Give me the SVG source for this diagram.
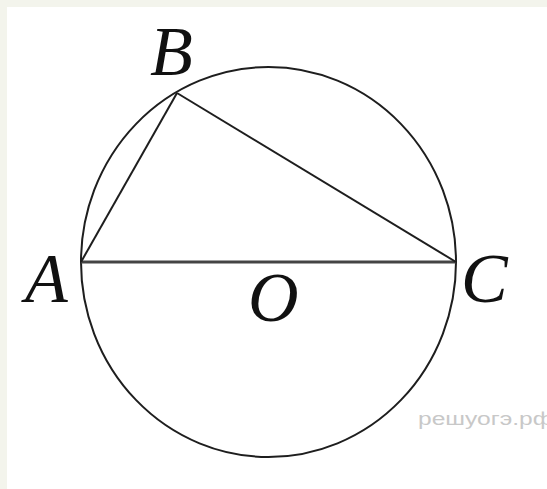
<svg xmlns="http://www.w3.org/2000/svg" width="547" height="489" viewBox="0 0 547 489">
<style>
.ln{fill:none;stroke:#1e1e1e;stroke-width:2}
</style>
<rect x="0" y="0" width="547" height="489" fill="#f3f4ec"/>
<rect x="7" y="7" width="540" height="482" fill="#ffffff"/>
<g id="connectors">
<ellipse class="ln" cx="268.5" cy="262" rx="187.5" ry="195"/>
<line x1="81" y1="262" x2="456" y2="262" stroke="#444" stroke-width="3.2"/>
<line class="ln" x1="81" y1="262" x2="177" y2="93"/>
<line class="ln" x1="177" y1="93" x2="456" y2="262"/>
</g>
<g id="A"><text x="25" y="302" font-family="Liberation Serif" font-style="italic" font-size="70" fill="#111">A</text></g>
<g id="B"><text x="150" y="75" font-family="Liberation Serif" font-style="italic" font-size="70" fill="#111">B</text></g>
<g id="C"><text x="461" y="302" font-family="Liberation Serif" font-style="italic" font-size="70" fill="#111">C</text></g>
<g id="O"><text x="248" y="321" font-family="Liberation Serif" font-style="italic" font-size="70" fill="#111">O</text></g>
<text font-family="Liberation Sans" font-size="18" fill="#c8c8c8" x="418" y="425" textLength="135" lengthAdjust="spacingAndGlyphs">решуогэ.рф</text>
</svg>
